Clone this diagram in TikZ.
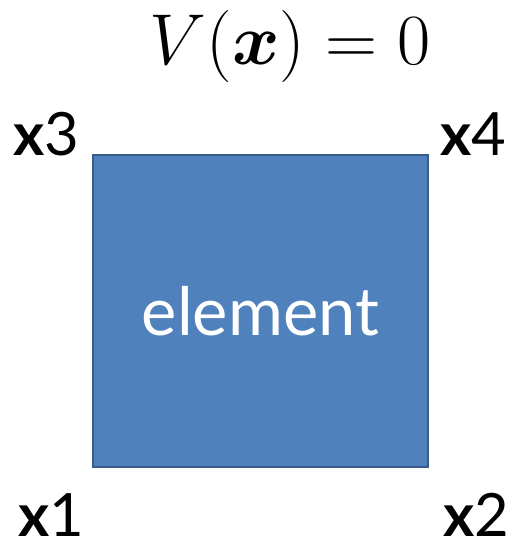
\documentclass[tikz,border=0pt]{standalone}
\usepackage{amsmath}
\usepackage{graphicx}
\usepackage{fontspec}
\setsansfont{Lato}
\usetikzlibrary{positioning}
\definecolor{elemfill}{HTML}{4F81BD}
\definecolor{elemline}{HTML}{385D8A}
\tikzset{
  elembox/.style={draw=elemline, line width=1.2pt, fill=elemfill, minimum width=6.7cm,
    minimum height=6.24cm, inner sep=0pt, text=white,
    font=\sffamily\fontsize{38}{44}\selectfont},
  corner/.style={anchor=base west, inner sep=0pt, font=\sffamily\fontsize{34}{40}\selectfont}
}
\begin{document}
\begin{tikzpicture}[x=0.02cm, y=0.02cm]
  \useasboundingbox (0,0) rectangle (515,549);

  \node[elembox] (elem) at (260.5,238) {element};

  \node[anchor=base, inner sep=0pt, font=\Huge] (pot) at (290,484) {\scalebox{1.65}{$V(\boldsymbol{x}) = 0$}};

  \node[corner] (x3) at (13,394) {\textbf{x}3};
  \node[corner] (x4) at (440,394) {\textbf{x}4};
  \node[corner] (x1) at (18,12) {\textbf{x}1};
  \node[corner] (x2) at (443,12) {\textbf{x}2};
\end{tikzpicture}
\end{document}
